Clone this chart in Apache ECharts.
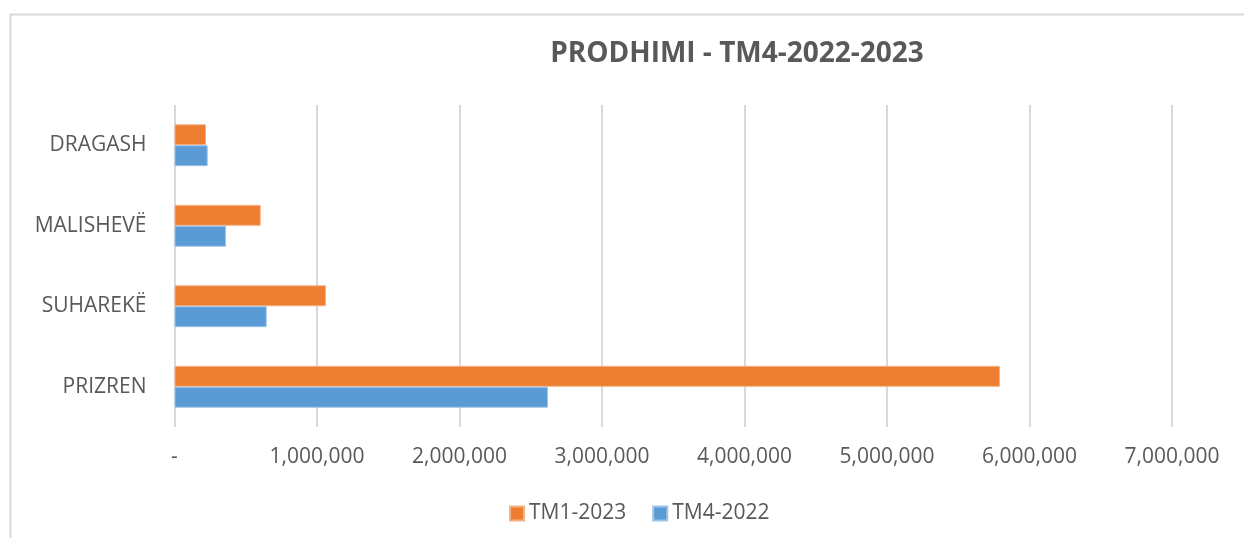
<!DOCTYPE html>
<html lang="sq">
<head>
    <meta charset="UTF-8">
    <title>PRODHIMI - TM4-2022-2023</title>
    <script src="https://cdn.jsdelivr.net/npm/echarts@6/dist/echarts.min.js"></script>
    <style>
        html, body { margin: 0; padding: 0; background: #fff; }
        #chart { width: 1244px; height: 538px; }
    </style>
</head>
<body>
<div id="chart"></div>
<script>
    // komunat (nga poshte lart)
    var categories = ['PRIZREN', 'SUHAREKË', 'MALISHEVË', 'DRAGASH'];
    var tm1_2023 = [5793000, 1063000, 605000, 221000];
    var tm4_2022 = [2621000, 647000, 361000, 233000];
    var xTicks = [0, 1000000, 2000000, 3000000, 4000000, 5000000, 6000000, 7000000];

    var font = '"Open Sans", "Liberation Sans", sans-serif';
    var myChart = echarts.init(document.getElementById('chart'));

    function fmt(v) {
        if (v === 0) return '-';
        return String(v).replace(/\B(?=(\d{3})+(?!\d))/g, ',');
    }

    var option = {
        animation: false,
        graphic: [{
            type: 'rect',
            shape: {x: 10.5, y: 14.5, width: 1250, height: 540},
            style: {fill: 'none', stroke: '#d9d9d9', lineWidth: 2},
            silent: true
        }],
        title: {
            text: 'PRODHIMI - TM4-2022-2023',
            left: 732,
            top: 35,
            textAlign: 'center',
            textStyle: {
                fontFamily: font,
                fontSize: 28,
                fontWeight: 'bold',
                color: '#595959'
            }
        },
        legend: {
            data: ['TM1-2023', 'TM4-2022'],
            top: 498,
            left: 504,
            itemWidth: 14,
            itemHeight: 14,
            itemGap: 26,
            icon: 'rect',
            textStyle: {fontFamily: font, fontSize: 21, color: '#595959'}
        },
        grid: {
            left: 174.5,
            right: 72,
            top: 105,
            bottom: 111,
            containLabel: false
        },
        xAxis: {
            type: 'value',
            min: xTicks[0],
            max: xTicks[xTicks.length - 1],
            interval: 1000000,
            axisLine: {show: false},
            axisTick: {show: false},
            splitLine: {lineStyle: {color: '#d9d9d9', width: 2}},
            axisLabel: {
                margin: 20,
                fontFamily: font,
                fontSize: 21,
                color: '#595959',
                formatter: fmt
            }
        },
        yAxis: {
            type: 'category',
            data: categories,
            axisLine: {show: false},
            axisTick: {show: false},
            axisLabel: {
                margin: 28,
                fontFamily: font,
                fontSize: 21,
                color: '#595959'
            }
        },
        series: [
            {
                name: 'TM1-2023',
                type: 'bar',
                data: tm1_2023,
                barGap: '0%',
                barCategoryGap: '48%',
                itemStyle: {color: '#ed7d31', borderColor: '#f4b183', borderWidth: 1}
            },
            {
                name: 'TM4-2022',
                type: 'bar',
                data: tm4_2022,
                barGap: '0%',
                barCategoryGap: '48%',
                itemStyle: {color: '#5b9bd5', borderColor: '#9dc3e6', borderWidth: 1}
            }
        ]
    };
    myChart.setOption(option);
</script>
</body>
</html>
